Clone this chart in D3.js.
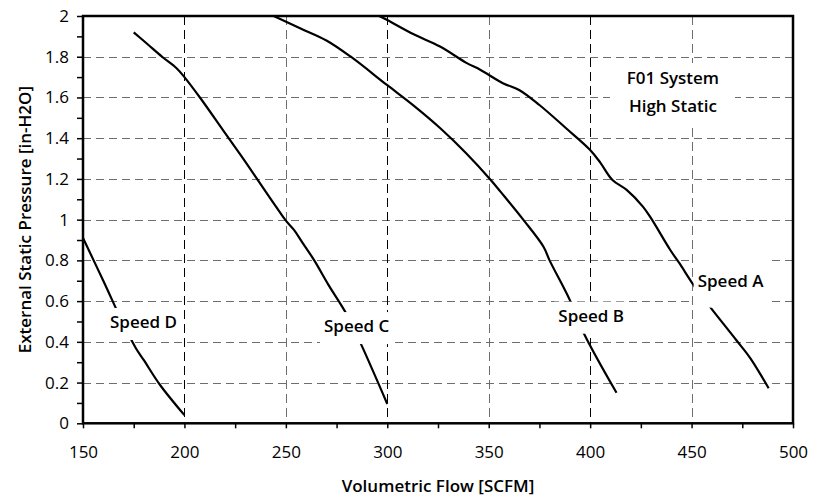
<!DOCTYPE html>
<html>
<head>
<meta charset="utf-8">
<script src="https://cdn.jsdelivr.net/npm/d3@7"></script>
<style>
  body { margin: 0; background: #fff; }
  text { font-family: "Open Sans", sans-serif; fill: #000; }
</style>
</head>
<body>
<svg width="817" height="498"></svg>
<script>
// fan curves: [flow SCFM, pressure in-H2O]
const speedA = [[296,2.0],[300,1.98],[313,1.91],[326,1.85],[339,1.77],[346,1.735],[357,1.67],[365,1.637],
  [375,1.563],[388,1.45],[400,1.342],[405,1.28],[411,1.195],[418,1.146],[426,1.064],[430,1.007],
  [439.5,0.851],[444,0.786],[451,0.679],[459,0.573],[472,0.409],[479,0.319],[488,0.172]];
const speedB = [[244,2.0],[257,1.94],[270,1.88],[282,1.80],[300,1.66],[313,1.56],[326,1.45],[339,1.325],
  [351,1.195],[356,1.135],[367,1.0],[377,0.867],[380,0.80],[390,0.605],[397,0.44],[413,0.15]];
const speedC = [[175,1.92],[182,1.86],[189,1.80],[196,1.745],[200,1.70],[208,1.595],[219,1.44],[231,1.27],
  [243,1.095],[250,0.995],[254,0.95],[258,0.89],[264,0.80],[271,0.68],[280,0.535],[287,0.39],[300,0.095]];
const speedD = [[150,0.91],[160,0.70],[170,0.485],[176,0.37],[180,0.31],[188,0.188],[200,0.04]];

const seriesList = [speedA, speedB, speedC, speedD];

const xTicks = [150, 200, 250, 300, 350, 400, 450, 500];
const xMinor = [175, 225, 275, 325, 375, 425, 475];
const yTicks = [0, 0.2, 0.4, 0.6, 0.8, 1, 1.2, 1.4, 1.6, 1.8, 2];
const yMinor = [0.1, 0.3, 0.5, 0.7, 0.9, 1.1, 1.3, 1.5, 1.7, 1.9];

// curve labels: text, flow at text start, pressure at baseline
const curveLabels = [
  { text: "Speed A", flow: 453, p: 0.671 },
  { text: "Speed B", flow: 384.3, p: 0.499 },
  { text: "Speed C", flow: 268.8, p: 0.448 },
  { text: "Speed D", flow: 163.3, p: 0.468 }
];
const noteLines = ["F01 System", "High Static"];

const svg = d3.select("svg");
const plotL = 83, plotR = 793, plotT = 16, plotB = 423.3;

const x = d3.scaleLinear().domain([150, 500]).range([plotL, plotR]);
const y = d3.scaleLinear().domain([0, 2]).range([plotB, plotT]);

svg.append("clipPath").attr("id", "plot")
  .append("rect").attr("x", plotL).attr("y", plotT).attr("width", plotR - plotL).attr("height", plotB - plotT);

// grid
const grid = svg.append("g");
yTicks.filter(d => d > 0 && d < 2).forEach(d => {
  grid.append("line")
    .attr("x1", plotL).attr("x2", plotR)
    .attr("y1", Math.round(y(d)) + 0.5).attr("y2", Math.round(y(d)) + 0.5)
    .attr("stroke", "#6e6e6e").attr("stroke-dasharray", "8,5");
});
xTicks.filter(d => d > 150 && d < 500).forEach(d => {
  grid.append("line")
    .attr("x1", Math.round(x(d)) + 0.5).attr("x2", Math.round(x(d)) + 0.5)
    .attr("y1", plotT).attr("y2", plotB)
    .attr("stroke", d % 100 === 0 ? "#000" : "#6e6e6e").attr("stroke-dasharray", "9,5");
});

// curves
const line = d3.line().x(d => x(d[0])).y(d => y(d[1])).curve(d3.curveCatmullRom);
svg.append("g").attr("clip-path", "url(#plot)")
  .selectAll("path").data(seriesList).enter().append("path")
  .attr("d", line)
  .attr("fill", "none").attr("stroke", "#000").attr("stroke-width", 2.2)
  .attr("stroke-linejoin", "round");

// axes
svg.append("g").attr("transform", `translate(0,${plotB})`)
  .call(d3.axisBottom(x).tickValues(xTicks).tickSize(5).tickPadding(18).tickFormat(d3.format("d")));
svg.append("g").attr("transform", `translate(0,${plotB})`)
  .call(d3.axisBottom(x).tickValues(xMinor).tickSize(5).tickFormat(""));
svg.append("g").attr("transform", `translate(${plotL},0)`)
  .call(d3.axisLeft(y).tickValues(yTicks).tickSize(6).tickPadding(8).tickFormat(d => String(+d.toFixed(1))));
svg.append("g").attr("transform", `translate(${plotL},0)`)
  .call(d3.axisLeft(y).tickValues(yMinor).tickSize(6).tickFormat(""));

svg.selectAll(".domain").remove();
svg.selectAll(".tick line").attr("stroke", "#000").attr("stroke-width", 1.5);
svg.selectAll(".tick text").attr("font-size", "17px").attr("font-family", "Open Sans, sans-serif").attr("fill", "#000");

// frame
svg.append("rect")
  .attr("x", plotL).attr("y", plotT).attr("width", plotR - plotL).attr("height", plotB - plotT)
  .attr("fill", "none").attr("stroke", "#000").attr("stroke-width", 2.5);

// curve labels with white boxes that break the lines
const pads = { "Speed A": [29, 21], "Speed B": [20, 12], "Speed C": [20, 12], "Speed D": [20, 12] };
curveLabels.forEach(l => {
  const g = svg.append("g");
  const bx = g.append("rect").attr("fill", "#fff");
  const t = g.append("text")
    .attr("x", x(l.flow)).attr("y", y(l.p))
    .attr("font-size", "17px").attr("font-weight", 600)
    .text(l.text);
  const w = t.node().getComputedTextLength();
  const [pt, pb] = pads[l.text];
  bx.attr("x", x(l.flow) - 4).attr("width", w + 8)
    .attr("y", y(l.p) - pt).attr("height", pt + pb);
});

// note box
const noteX = x(440.8);
svg.append("rect").attr("fill", "#fff")
  .attr("x", 610).attr("y", y(1.666) - 21).attr("width", 125).attr("height", 65);
noteLines.forEach((s, i) => {
  svg.append("text")
    .attr("x", noteX).attr("y", y(1.666) + i * 28)
    .attr("text-anchor", "middle").attr("font-size", "17px").attr("font-weight", 600)
    .text(s);
});

// axis titles
svg.append("text")
  .attr("x", (plotL + plotR) / 2).attr("y", 492)
  .attr("text-anchor", "middle").attr("font-size", "17px").attr("font-weight", 600)
  .text("Volumetric Flow [SCFM]");
svg.append("text")
  .attr("transform", `translate(31,${(plotT + plotB) / 2}) rotate(-90)`)
  .attr("text-anchor", "middle").attr("font-size", "17px").attr("font-weight", 600)
  .text("External Static Pressure [in-H2O]");
</script>
</body>
</html>
